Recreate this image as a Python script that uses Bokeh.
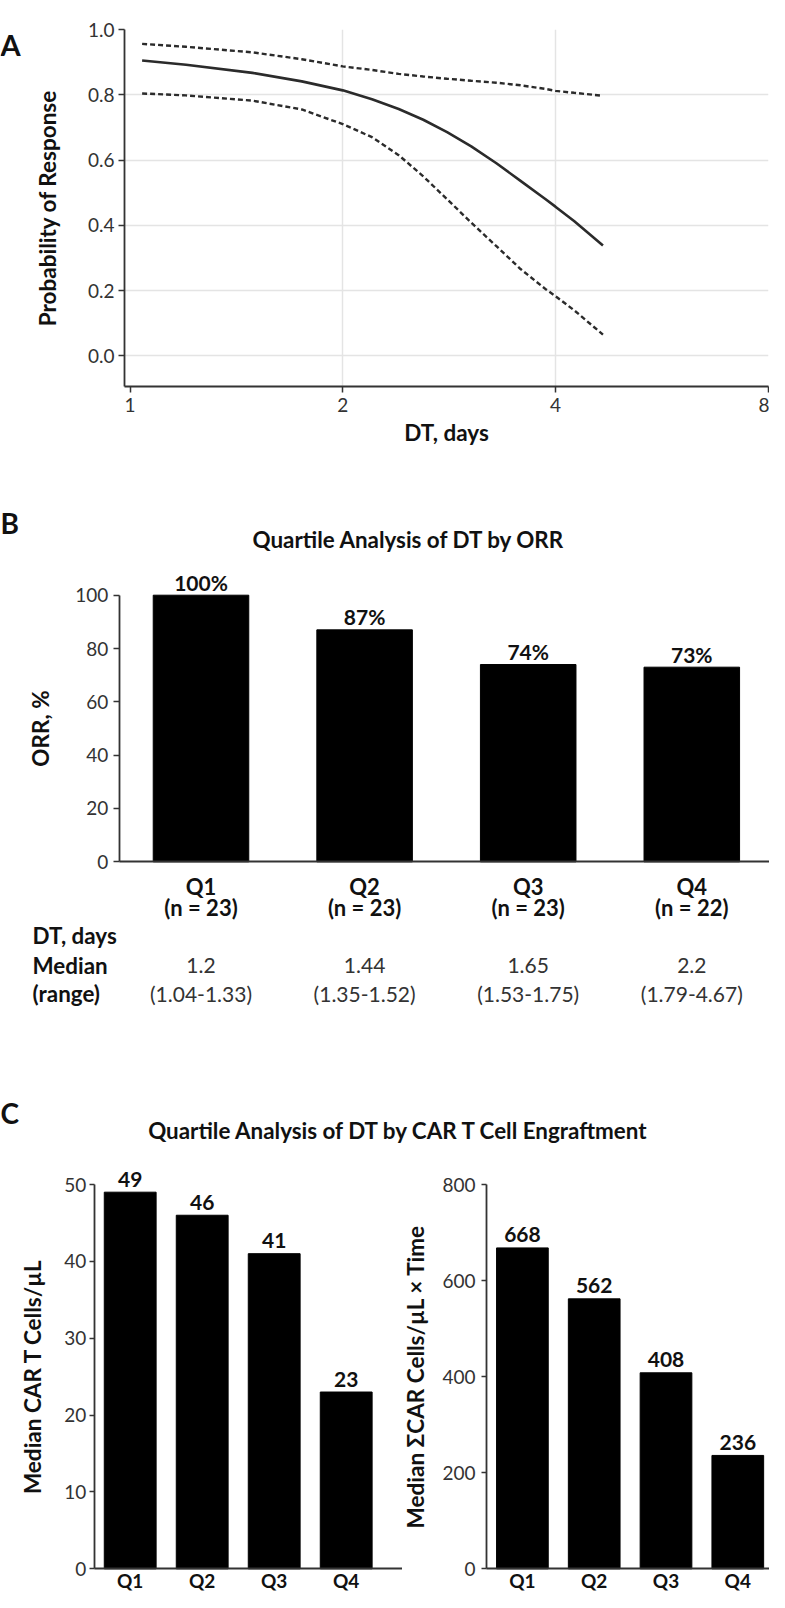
from bokeh.plotting import figure
from bokeh.layouts import column, row
from bokeh.core.properties import value
from bokeh.models import (Range1d, FixedTicker, NumeralTickFormatter, PrintfTickFormatter,
                          Label, LabelSet, ColumnDataSource)
from bokeh.embed import file_html
from bokeh.resources import INLINE

FONT = "Lato"
INK = "#111111"
AXIS = "#333333"

# ---- panel A: probability of response vs doubling time (fit + 95% band)
dt_days = [1.04, 1.2, 1.49, 1.75, 2.0, 2.2, 2.4, 2.6, 2.81, 3.04, 3.3, 3.57, 3.87, 4.0, 4.25, 4.67]
prob_fit = [0.905, 0.892, 0.867, 0.841, 0.8135, 0.7865, 0.7565, 0.7235, 0.6857, 0.642, 0.590,
            0.536, 0.4805, 0.4571, 0.4133, 0.338]
prob_upper = [0.956, 0.947, 0.930, 0.909, 0.887, 0.876, 0.864, 0.856, 0.849, 0.843, 0.837,
              0.829, 0.818, 0.812, 0.806, 0.797]
prob_lower = [0.804, 0.798, 0.782, 0.755, 0.710, 0.670, 0.615, 0.550, 0.480, 0.408, 0.336,
              0.266, 0.205, 0.183, 0.140, 0.065]
a_xticks = [1, 2, 4, 8]
a_yticks = [0, 0.2, 0.4, 0.6, 0.8, 1.0]

# ---- panel B: ORR by DT quartile
quartiles = ["Q1", "Q2", "Q3", "Q4"]
orr_pct = [100, 87, 74, 73]
n_patients = [23, 23, 23, 22]
dt_median = ["1.2", "1.44", "1.65", "2.2"]
dt_range = ["(1.04-1.33)", "(1.35-1.52)", "(1.53-1.75)", "(1.79-4.67)"]

# ---- panel C: CAR T engraftment by DT quartile
car_t_median = [49, 46, 41, 23]
car_auc_median = [668, 562, 408, 236]

W = 769
q_pos = list(range(1, len(quartiles) + 1))   # bar slots on the x scale
q_names = dict(zip(q_pos, quartiles))

bold_kw = dict(text_font=value(FONT), text_font_size="21px", text_font_style="bold",
               text_color=INK, text_align="center", text_baseline="middle")
plain_kw = dict(text_font=value(FONT), text_font_size="21px", text_font_style="normal",
                text_color=AXIS, text_align="center", text_baseline="middle")


def style_axes(p):
    for ax in p.axis:
        ax.axis_line_color = AXIS
        ax.axis_line_width = 1.8
        ax.major_tick_line_color = AXIS
        ax.major_tick_line_width = 1.5
        ax.major_tick_in = 0
        ax.major_tick_out = 6
        ax.minor_tick_line_color = None
        ax.major_label_text_font = FONT
        ax.major_label_text_font_size = "19px"
        ax.major_label_text_color = AXIS
        ax.axis_label_text_font = FONT
        ax.axis_label_text_font_size = "22.5px"
        ax.axis_label_text_font_style = "bold"
        ax.axis_label_text_color = INK
    p.outline_line_color = None
    p.background_fill_color = "white"
    p.border_fill_color = "white"


def put(p, x, y, text, size="22.4px", align="center"):
    p.add_layout(Label(x=x, y=y, text=text, text_font=FONT, text_font_size=size,
                       text_font_style="bold", text_color=INK,
                       text_align=align, text_baseline="middle"))


def bar_figure(width, height, x_range, y_range, ymax, step):
    # the frame fills the whole canvas; axes sit at fixed places inside it
    p = figure(width=width, height=height, x_range=x_range, y_range=y_range,
               min_border=0, output_backend="svg", toolbar_location=None)
    style_axes(p)
    p.grid.visible = False
    xa, ya = p.xaxis[0], p.yaxis[0]
    xa.fixed_location = 0
    xa.bounds = (0.5, x_range[1])
    xa.ticker = FixedTicker(ticks=q_pos, minor_ticks=[])
    xa.major_label_overrides = q_names
    xa.major_tick_out = 0
    xa.major_label_text_font_style = "bold"
    xa.major_label_text_color = INK
    xa.major_label_text_font_size = "22px"
    ya.fixed_location = 0.5
    ya.bounds = (0, ymax)
    ya.ticker = FixedTicker(ticks=list(range(0, ymax + 1, step)), minor_ticks=[])
    return p


# ================= A
pa_tag = figure(width=30, height=492, x_range=(0, 30), y_range=(492, 0), min_border=0,
                output_backend="svg", toolbar_location=None)
pa_tag.axis.visible = False
pa_tag.grid.visible = False
pa_tag.outline_line_color = None
pa_tag.text(x=[0], y=[20], text=["A"], text_font=value(FONT), text_font_size="29px",
            text_font_style="bold", text_color=INK, text_baseline="alphabetic")

pa = figure(width=W - 30, height=492, x_axis_type="log",
            x_range=Range1d(0.982, 8.01), y_range=Range1d(-0.094, 1.0),
            min_border_left=81, min_border_right=1, min_border_top=29, min_border_bottom=106,
            output_backend="svg", toolbar_location=None)
pa.line(dt_days, prob_fit, line_color="#2b2b2b", line_width=2.6)
pa.line(dt_days, prob_upper, line_color="#2b2b2b", line_width=2.4, line_dash="5 3")
pa.line(dt_days, prob_lower, line_color="#2b2b2b", line_width=2.4, line_dash="5 3")

style_axes(pa)
pa.xaxis.ticker = FixedTicker(ticks=a_xticks, minor_ticks=[])
pa.xaxis.formatter = PrintfTickFormatter(format="%d")
pa.yaxis.ticker = FixedTicker(ticks=a_yticks, minor_ticks=[])
pa.yaxis.formatter = NumeralTickFormatter(format="0.0")
pa.xaxis.axis_label = "DT, days"
pa.yaxis.axis_label = "Probability of Response"
pa.xaxis.major_label_standoff = 5
pa.xaxis.axis_label_standoff = 4
pa.yaxis.major_label_standoff = 4
pa.yaxis.axis_label_standoff = 24
pa.xgrid.ticker = FixedTicker(ticks=[2, 4])
pa.ygrid.ticker = FixedTicker(ticks=[0, 0.2, 0.4, 0.6, 0.8])
pa.grid.grid_line_color = "#e4e4e4"
pa.grid.grid_line_width = 1.5

# ================= B  (canvas 660 px tall; 0% sits 369 px from its top, 2.666 px per %)
def by(px):
    return (369.3 - px) / 2.666


def bx(px):
    return 0.5 + (px - 118.7) / 163.6


pb = bar_figure(W, 660, (bx(0), bx(W)), (by(660), by(0)), 100, 20)
src_b = ColumnDataSource(dict(x=q_pos, v=orr_pct, txt=[f"{v}%" for v in orr_pct],
                              n=[f"(n = {n})" for n in n_patients], med=dt_median, rng=dt_range,
                              y_n=[by(415)] * 4, y_med=[by(473.3)] * 4, y_rng=[by(500.7)] * 4))
pb.vbar(x="x", top="v", width=0.584, source=src_b, fill_color="black", line_color="black")
pb.xaxis.major_label_standoff = 11
pb.yaxis.axis_label = "ORR, %"
pb.yaxis.major_label_standoff = 5
pb.yaxis.axis_label_standoff = 18
pb.add_layout(LabelSet(x="x", y="v", text="txt", y_offset=13, source=src_b, **bold_kw))
pb.add_layout(LabelSet(x="x", y="y_n", text="n", source=src_b,
                       **dict(bold_kw, text_font_size="22px")))
pb.add_layout(LabelSet(x="x", y="y_med", text="med", source=src_b, **plain_kw))
pb.add_layout(LabelSet(x="x", y="y_rng", text="rng", source=src_b, **plain_kw))

put(pb, bx(0), by(30), "B", size="28px", align="left")
put(pb, bx(408.5), by(46.7), "Quartile Analysis of DT by ORR")
put(pb, bx(32), by(443.3), "DT, days", align="left")
put(pb, bx(32), by(473.3), "Median", align="left")
put(pb, bx(32), by(500.7), "(range)", align="left")
put(pb, bx(0), by(620), "C", size="28px", align="left")
put(pb, bx(398.7), by(638), "Quartile Analysis of DT by CAR T Cell Engraftment")


# ================= C  (canvas 440 px tall; zero line 416.3 px from its top)
def car_panel(width, axis_px, slot_px, values, ymax, step, label, tick_standoff, label_standoff):
    px_per = 384.3 / ymax
    yr = (-(440 - 416.3) / px_per, 416.3 / px_per)
    xr = (0.5 - axis_px / slot_px, 0.5 + (width - axis_px) / slot_px)
    p = bar_figure(width, 440, xr, yr, ymax, step)
    src = ColumnDataSource(dict(x=q_pos, v=values, txt=[str(v) for v in values]))
    p.vbar(x="x", top="v", width=0.72, source=src, fill_color="black", line_color="black")
    p.add_layout(LabelSet(x="x", y="v", text="txt", y_offset=13, source=src, **bold_kw))
    p.xaxis.major_label_standoff = 0
    p.xaxis.major_label_text_font_size = "19px"
    p.yaxis.major_tick_out = 5
    p.yaxis.major_label_standoff = tick_standoff
    p.yaxis.axis_label = label
    p.yaxis.axis_label_standoff = label_standoff
    return p


pcl = car_panel(402, 93.7, 72.0, car_t_median, 50, 10, "Median CAR T Cells/µL", 3, 15)
pcr = car_panel(367, 84.0, 71.8, car_auc_median, 800, 200, "Median ΣCAR Cells/µL × Time", 6, 10)

layout = column(row(pa_tag, pa), pb, row(pcl, pcr))
open("out.html", "w").write(file_html(layout, INLINE))
